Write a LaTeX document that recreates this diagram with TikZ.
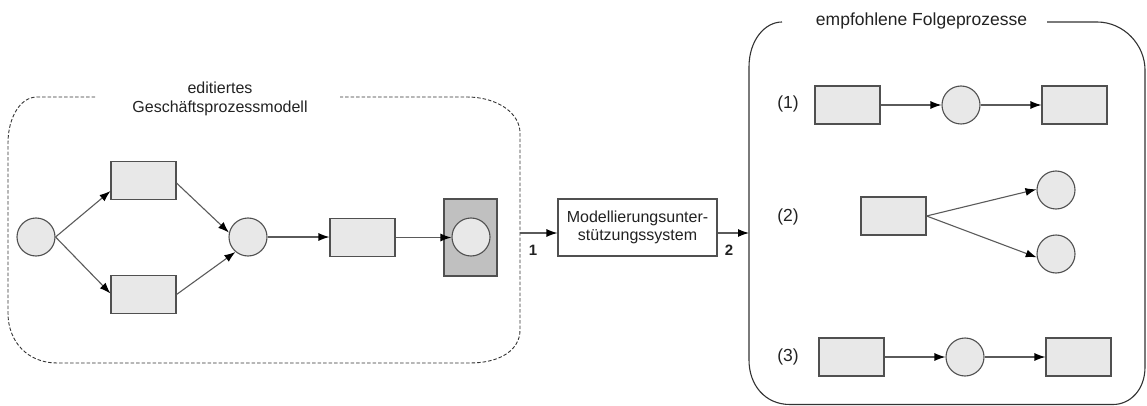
\documentclass[tikz,border=0pt]{standalone}
\usepackage{fontspec}
\setmainfont{Liberation Sans}
\usetikzlibrary{arrows.meta,calc}
\definecolor{shapefill}{HTML}{E8E8E8}
\definecolor{greyfill}{HTML}{C0C0C0}
\definecolor{edgec}{HTML}{505050}
\definecolor{linc}{HTML}{5A5A5A}
\definecolor{txt}{HTML}{222222}
\definecolor{framec}{HTML}{333333}
\begin{document}
\begin{tikzpicture}[x=1pt,y=-1pt,
  every node/.style={font=\fontsize{16}{19}\selectfont, text=txt},
  rbox/.style={draw=edgec, fill=shapefill, line width=1.1pt, minimum width=65pt, minimum height=38pt, inner sep=0pt},
  place/.style={circle, draw=edgec, fill=shapefill, line width=1.1pt, minimum size=38pt, inner sep=0pt},
  conn/.style={draw=linc, line width=1.1pt, -{Latex[length=11pt,width=8pt,color=black]}},
  dframe/.style={draw=framec, line width=0.9pt, dash pattern=on 3.5pt off 2pt},
  sframe/.style={draw=framec, line width=1.1pt},
  numlab/.style={font=\fontsize{15}{17}\selectfont\bfseries},
  rowlab/.style={font=\fontsize{17.5}{20}\selectfont},
]
\useasboundingbox (0,0) rectangle (1147,406);

% left dashed frame
\draw[dframe] (95,97) -- (37,97) .. controls (20,97) and (8,118) .. (8,143) -- (8,313)
  .. controls (8,342) and (28,363) .. (57,363) -- (470,363)
  .. controls (500,363) and (520,350) .. (520,330) -- (520,133)
  .. controls (520,113) and (497,97) .. (467,97) -- (340,97);
\node[align=center] (ltitle) at (220,99) {editiertes\\Geschäftsprozessmodell};

% right solid frame
\draw[sframe] (1047,22) -- (1097,22) .. controls (1124,22) and (1145,45) .. (1145,70) -- (1145,367)
  .. controls (1145,390) and (1130,404.5) .. (1113,404.5) -- (790,404.5)
  .. controls (765,404.5) and (749,385) .. (749,360) -- (749,67)
  .. controls (749,40) and (765,22) .. (782,22);
\node[font=\fontsize{17.5}{20}\selectfont] (rtitle) at (921.5,21) {empfohlene Folgeprozesse};

% left model
\node[place] (c1) at (36,237) {};
\node[rbox] (t1) at (143.5,180.5) {};
\node[rbox] (b1) at (143.5,294.5) {};
\node[place] (c2) at (248,237) {};
\node[rbox] (r1) at (362.5,237.5) {};
\node[rbox, fill=greyfill, minimum width=53pt, minimum height=77pt] (g) at (470.5,237.5) {};
\node[place] (c3) at (471,237) {};

\draw[conn] (c1.east) -- ($(t1.south west)+(0,-9)$);
\draw[conn] (c1.east) -- ($(b1.west)+(0,-1)$);
\draw[conn] ($(t1.south east)+(0,-17)$) -- (c2.167);
\draw[conn] (b1.east) -- (c2.230);
\draw[conn] (c2.east) -- (r1.west |- c2.east);
\draw[conn] (r1.east) -- (c3.west |- r1.east);

% middle system
\node[draw=edgec, fill=white, line width=1.1pt, minimum width=159pt, minimum height=57pt, inner sep=0pt, align=center, font=\fontsize{16}{18}\selectfont] (M) at (637.5,227.5) {Modellierungsunter-\\stützungssystem};
\coordinate (a1) at (520,233);
\coordinate (a2) at (749,233);
\draw[conn] (a1) -- (a1 -| M.west);
\draw[conn] (a2 -| M.east) -- (a2);
\node[numlab] (n1) at (533,250) {1};
\node[numlab] (n2) at (729,250) {2};

% right: row labels
\node[rowlab] (l1) at (788,104) {(1)};
\node[rowlab] (l2) at (788,217) {(2)};
\node[rowlab] (l3) at (788,357) {(3)};

% row 1
\node[rbox] (p1) at (847.5,105) {};
\node[place] (q1) at (961,105) {};
\node[rbox] (s1) at (1074.5,105) {};
\draw[conn] (p1.east) -- (q1.west);
\draw[conn] (q1.east) -- (s1.west);

% row 2
\node[rbox] (p2) at (893.5,216) {};
\node[place] (u2) at (1056,190) {};
\node[place] (d2) at (1056,254) {};
\draw[conn] (p2.east) -- (u2.178);
\draw[conn] (p2.east) -- (d2.190);

% row 3
\node[rbox] (p3) at (851.5,357) {};
\node[place] (q3) at (965,357) {};
\node[rbox] (s3) at (1078.5,357) {};
\draw[conn] (p3.east) -- (q3.west);
\draw[conn] (q3.east) -- (s3.west);
\end{tikzpicture}
\end{document}
